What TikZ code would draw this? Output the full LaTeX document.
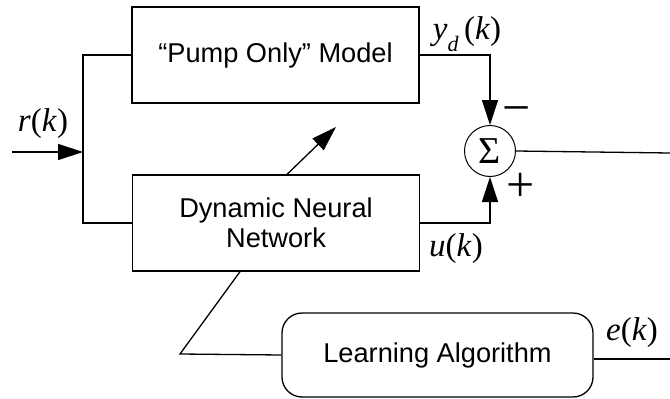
\documentclass[tikz,border=0pt]{standalone}
\usepackage{fontspec}
\setmainfont{Liberation Sans}
\newfontfamily\serifvar{Liberation Serif}
\usetikzlibrary{arrows.meta}
\newcommand{\boxfont}{\fontsize{27.2}{31}\selectfont}
\newcommand{\varfont}{\serifvar\fontsize{33}{36}\selectfont}
\newcommand{\signfont}{\serifvar\fontsize{50}{50}\selectfont}
\newcommand{\mv}[1]{\textit{#1}}
\begin{document}
\begin{tikzpicture}[x=1pt,y=-1pt,
  line width=1.3pt,
  blockbox/.style={draw, rectangle, inner sep=0pt, font=\boxfont, align=center},
  sumnode/.style={draw, circle, minimum size=51, inner sep=0pt, line width=1pt},
  arr/.style={-{Triangle[length=25pt,width=16pt]}},
  lbl/.style={font=\varfont, inner sep=0pt}]
\useasboundingbox (0,0) rectangle (670,399);

% blocks
\node[blockbox, minimum width=287, minimum height=96] (pump) at (275.5,55) {“Pump Only” Model};
\node[blockbox, minimum width=287, minimum height=96] (dnn) at (276,223) {Dynamic Neural\\[-1pt]Network};
\node[blockbox, rounded corners=20pt, minimum width=311, minimum height=84] (learn) at (437.5,355) {Learning Algorithm};
\node[sumnode] (sum) at (490,151) {\serifvar\fontsize{38}{38}\selectfont Σ};

% helper points
\coordinate (in) at (12,152);
\coordinate (j) at (83,152);
\coordinate (tune) at (336,127);
\coordinate (kink) at (180,354);
\coordinate (sout) at (670,153);
\coordinate (eout) at (670,359);

% signal paths
\draw[arr] (in) -- (j);
\draw (pump.west) -| (j) |- (dnn.west);
\draw[arr] (pump.east) -| (sum.north);
\draw[arr] (dnn.east) -| (sum.south);
\draw (sum.east) -- (sout);
\draw[arr] ([xshift=11pt]dnn.north) -- (tune);
\draw (learn.west) -- (kink) -- ([xshift=-36pt]dnn.south);
\draw ([yshift=-4pt]learn.east) -- (eout);

% labels
\node[lbl] (rk) at (43,124) {\mv{r}(\mv{k})};
\node[lbl] (ydk) at (467,34) {\mv{y}\raisebox{-0.35em}{\fontsize{22}{22}\selectfont\mv{d}}\,(\mv{k})};
\node[lbl] (uk) at (456,249) {\mv{u}(\mv{k})};
\node[lbl] (ek) at (632,333) {\mv{e}(\mv{k})};
\node[lbl, font=\signfont] (minus) at (517,116) {−};
\node[lbl, font=\signfont] (plus) at (521,187) {+};
\end{tikzpicture}
\end{document}
